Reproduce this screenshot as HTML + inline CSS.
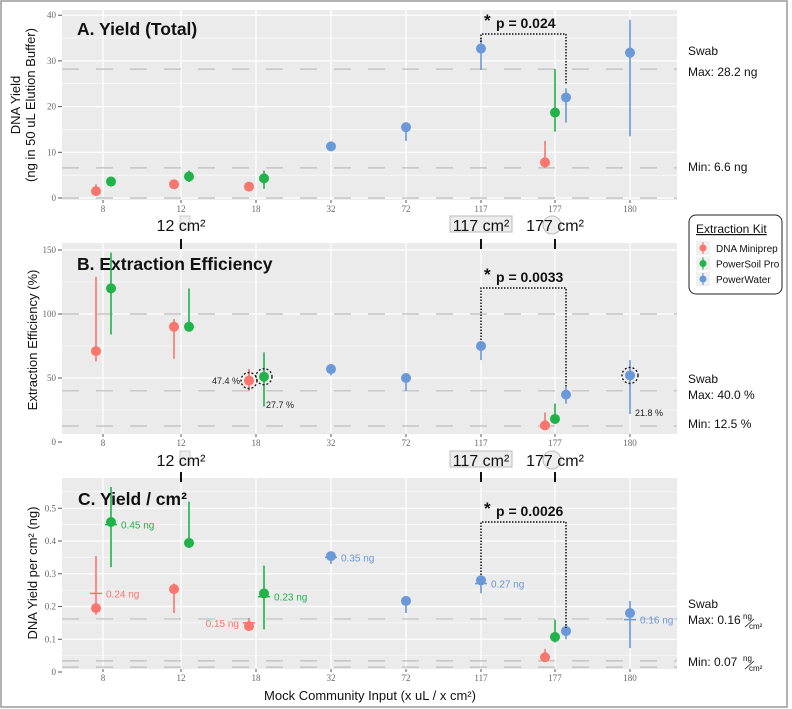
<!DOCTYPE html>
<html><head><meta charset="utf-8">
<style>
html,body{margin:0;padding:0;background:#fff;}
svg{display:block;font-family:"Liberation Sans",sans-serif;}
</style></head>
<body>
<svg id="chart" width="792" height="709" viewBox="0 0 792 709"></svg>
<script>
const NS="http://www.w3.org/2000/svg";
const svg=document.getElementById('chart');
// ---- data ----
const categories=["8","12","18","32","72","117","177","180"];
const kits=["DNA Miniprep","PowerSoil Pro","PowerWater"];
const kitColors=["#F8766D","#1fb34a","#6b98d8"];
// each point: [categoryIndex, kitIndex, value, low, high]
const yieldPoints=[[0,0,1.5,0.5,3],[0,1,3.6,2.5,4.5],[1,0,3.0,2.6,3.2],[1,1,4.7,3.5,6],[2,0,2.5,2.2,2.8],[2,1,4.3,2,6],[3,2,11.3,10.8,11.6],[4,2,15.5,12.5,16.5],[5,2,32.7,28,35],[6,0,7.8,6.6,12.5],[6,1,18.7,14.5,28.2],[6,2,22,16.5,24],[7,2,31.8,13.5,39]];
const effPoints=[[0,0,71,63,129],[0,1,120,84,148],[1,0,90,65,96],[1,1,90,90,120],[2,0,48,40,57],[2,1,51,27.7,70],[3,2,57,52,58],[4,2,50,40,52],[5,2,75,64,77],[6,0,13,10,23],[6,1,18,14,30],[6,2,37,30,43],[7,2,52,21.8,64]];
const perPoints=[[0,0,0.195,0.175,0.354],[0,1,0.458,0.32,0.565],[1,0,0.253,0.18,0.27],[1,1,0.394,0.39,0.52],[2,0,0.14,0.13,0.165],[2,1,0.24,0.13,0.325],[3,2,0.354,0.33,0.36],[4,2,0.217,0.18,0.22],[5,2,0.28,0.24,0.29],[6,0,0.045,0.04,0.07],[6,1,0.107,0.09,0.16],[6,2,0.125,0.1,0.145],[7,2,0.18,0.073,0.217]];
const yieldTicks=[0,10,20,30,40];
const effTicks=[0,50,100,150];
const perTicks=[0,0.1,0.2,0.3,0.4,0.5];
const yieldRefs=[28.2,6.6,0];
const effRefs=[100,40,12.5];
const perRefs=[0.162,0.034,0.015];
const perMeans=[[0,0,0.24,"0.24 ng"],[0,1,0.45,"0.45 ng"],[2,0,0.15,"0.15 ng"],[2,1,0.23,"0.23 ng"],[3,2,0.35,"0.35 ng"],[5,2,0.27,"0.27 ng"],[7,2,0.16,"0.16 ng"]];

function el(tag,attrs,parent){const e=document.createElementNS(NS,tag);for(const k in attrs)e.setAttribute(k,attrs[k]);(parent||svg).appendChild(e);return e;}
function txt(s,attrs,parent){const e=el('text',attrs,parent);e.textContent=s;return e;}

const catX=[103,181,256,331,406,481,555,630];
function xPos(ci,ki,pts){
  const n=pts.filter(p=>p[0]===ci).length;
  if(n===1)return catX[ci];
  if(n===2)return catX[ci]+(ki===0?-7:8);
  return catX[ci]+[-10,0,11][ki];
}

function panel(name,top,bottom,y0px,ypu,ymin,ymax,ticks,minors,refs,pts,fmt){
  const g=el('g',{});
  
  
  const L=62,R=677;
  const y=v=>y0px-v*ypu;
  el('rect',{x:L,y:top,width:R-L,height:bottom-top,fill:'#ebebeb'},g);
  minors.forEach(v=>{if(y(v)>top&&y(v)<bottom)el('line',{x1:L,x2:R,y1:y(v),y2:y(v),stroke:'#fff','stroke-width':0.6},g);});
  ticks.forEach(v=>{
    el('line',{x1:L,x2:R,y1:y(v),y2:y(v),stroke:'#fff','stroke-width':1.2},g);
    el('line',{x1:L-4,x2:L,y1:y(v),y2:y(v),stroke:'#555'},g);
    txt(fmt(v),{x:L-6,y:y(v)+3,'text-anchor':'end','font-size':9,fill:'#666','font-family':'Liberation Serif,serif'},g);
  });
  catX.forEach((cx,i)=>{
    el('line',{x1:cx,x2:cx,y1:top,y2:bottom,stroke:'#fff','stroke-width':1.2},g);
    el('line',{x1:cx,x2:cx,y1:bottom,y2:bottom+3,stroke:'#555'},g);
    const t=txt(categories[i],{x:cx,y:bottom+12,'text-anchor':'middle','font-size':9,fill:'#666','font-family':'Liberation Serif,serif'},g);
    
    
  });
  refs.forEach(v=>{
    const l=el('line',{x1:L,x2:R,y1:y(v),y2:y(v),stroke:'#bdbdbd','stroke-width':1.2,'stroke-dasharray':'17,17'},g);
    
    
  });
  pts.forEach(p=>{
    const cx=xPos(p[0],p[1],pts);
    const c=kitColors[p[1]];
    const e=el('line',{x1:cx,x2:cx,y1:y(p[3]),y2:y(p[4]),stroke:c,'stroke-width':1.6},g);
    
    
    const d=el('circle',{cx:cx,cy:y(p[2]),r:5,fill:c},g);
    
    
  });
  return {g,y,xp:(ci,ki)=>xPos(ci,ki,pts)};
}

const A=panel('panel-a-yield',10,200,198,4.57,0,40,yieldTicks,[5,15,25,35],yieldRefs,yieldPoints,v=>String(v));
const B=panel('panel-b-efficiency',243,434,442,1.28,0,150,effTicks,[25,75,125],effRefs,effPoints,v=>String(v));
const C=panel('panel-c-yield-per-cm2',478,669,672,327.5,0,0.55,perTicks,[0.05,0.15,0.25,0.35,0.45,0.55],perRefs,perPoints,v=>v===0?'0':v.toFixed(1));

perMeans.forEach(m=>{
  const cx=C.xp(m[0],m[1]);const yy=C.y(m[2]);const c=kitColors[m[1]];
  el('line',{x1:cx-6,x2:cx+6,y1:yy,y2:yy,stroke:c,'stroke-width':1.5});
  const left=(m[0]===2&&m[1]===0);
  const t=txt(m[3],{x:left?cx-10:cx+10,y:yy+4,'text-anchor':left?'end':'start','font-size':10,fill:c});
  
  
});

[[2,0],[2,1],[7,2]].forEach(h=>{
  const p=effPoints.find(q=>q[0]===h[0]&&q[1]===h[1]);
  el('circle',{cx:B.xp(h[0],h[1]),cy:B.y(p[2]),r:8,fill:'none',stroke:'#111','stroke-width':1.3,'stroke-dasharray':'2,2'});
});
txt('47.4 %',{x:240,y:384,'text-anchor':'end','font-size':9,fill:'#222'});
txt('27.7 %',{x:266,y:408,'font-size':9,fill:'#222'});
txt('21.8 %',{x:635,y:416,'font-size':9,fill:'#222'});

[['A. Yield (Total)',77,35],['B. Extraction Efficiency',77,270],['C. Yield / cm²',78,505]].forEach((t,i)=>{
  const e=txt(t[0],{x:t[1],y:t[2],'font-size':17.5,'font-weight':'bold',fill:'#111'});
  
  
});

function bracket(top,yl,yr,label){
  const g=el('g',{});
  
  
  el('polyline',{points:`481,${yl} 481,${top} 566,${top} 566,${yr}`,fill:'none',stroke:'#111','stroke-width':1.5,'stroke-dasharray':'1.5,1.5'},g);
  txt('*',{x:484,y:top-8,'font-size':17,'font-weight':'bold',fill:'#111'},g);
  txt(label,{x:496,y:top-6,'font-size':14,'font-weight':'bold',fill:'#111'},g);
}
bracket(34,42,84,'p = 0.024');
bracket(288,340,388,'p = 0.0033');
bracket(522,575,628,'p = 0.0026');

function cmLabels(yt,tickTop){
  [[181,'12 cm²',false],[481,'117 cm²',true],[555,'177 cm²',false]].forEach(l=>{
    if(l[2])el('rect',{x:l[0]-31,y:yt-15,width:62,height:16,fill:'#ececec',stroke:'#bbb'});
    if(l[0]===555)el('circle',{cx:l[0]-3,cy:yt-6,r:9,fill:'#eee',stroke:'#bbb'});
    if(l[0]===181)el('rect',{x:l[0]-1,y:yt-15,width:10,height:14,fill:'#eee',stroke:'#ccc'});
    const t=txt(l[1],{x:l[0],y:yt,'text-anchor':'middle','font-size':16,fill:'#111'});
    
    
    el('line',{x1:l[0],x2:l[0],y1:tickTop,y2:tickTop+10,stroke:'#111','stroke-width':2});
  });
}
cmLabels(231,239);
cmLabels(466,472);

[['Swab',55],['Max: 28.2 ng',76],['Min: 6.6 ng',171],['Swab',383],['Max: 40.0 %',399],['Min: 12.5 %',428],['Swab',608],['Max: 0.16',624],['Min: 0.07',666]].forEach(a=>{
  const t=txt(a[0],{x:688,y:a[1],'font-size':12,fill:'#111'});
  
  
});
[[624],[666]].forEach(a=>{
  txt('ng',{x:743,y:a[0]-5,'font-size':8,fill:'#111'});
  txt('cm²',{x:749,y:a[0]+5,'font-size':8,fill:'#111'});
  el('line',{x1:745,x2:754,y1:a[0]+3,y2:a[0]-5,stroke:'#111','stroke-width':0.8});
});

function vtitle(lines,x,cy,name){
  const t=el('text',{transform:`translate(${x},${cy}) rotate(-90)`,'text-anchor':'middle','font-size':13,fill:'#111'});
  
  
  lines.forEach((s,i)=>{const ts=el('tspan',{x:0,dy:i?15:0},t);ts.textContent=s;});
}
vtitle(['DNA Yield','(ng in 50 uL Elution Buffer)'],20,105,'y-axis-title-a');
vtitle(['Extraction Efficiency (%)'],37,340,'y-axis-title-b');
vtitle(['DNA Yield per cm² (ng)'],37,573,'y-axis-title-c');
const xt=txt('Mock Community Input (x uL / x cm²)',{x:370,y:700,'text-anchor':'middle','font-size':13,fill:'#111'});



const lg=el('g',{});


el('rect',{x:689,y:215,width:93,height:79,rx:7,fill:'#fff',stroke:'#222','stroke-width':1},lg);
txt('Extraction Kit',{x:696,y:233,'font-size':12,fill:'#111','text-decoration':'underline'},lg);
kits.forEach((k,i)=>{
  const yy=248+i*15.5;
  const e=el('g',{},lg);
  
  
  el('rect',{x:696,y:yy-7,width:14,height:14,fill:'#f0f0f0'},e);
  el('line',{x1:703,x2:703,y1:yy-6,y2:yy+6,stroke:kitColors[i],'stroke-width':1.2},e);
  el('circle',{cx:703,cy:yy,r:3.5,fill:kitColors[i]},e);
  txt(k,{x:716,y:yy+4,'font-size':10,fill:'#111'},e);
});

el('rect',{x:1,y:1,width:786,height:706,fill:'none',stroke:'#999','stroke-width':1.5});
</script>
</body></html>
